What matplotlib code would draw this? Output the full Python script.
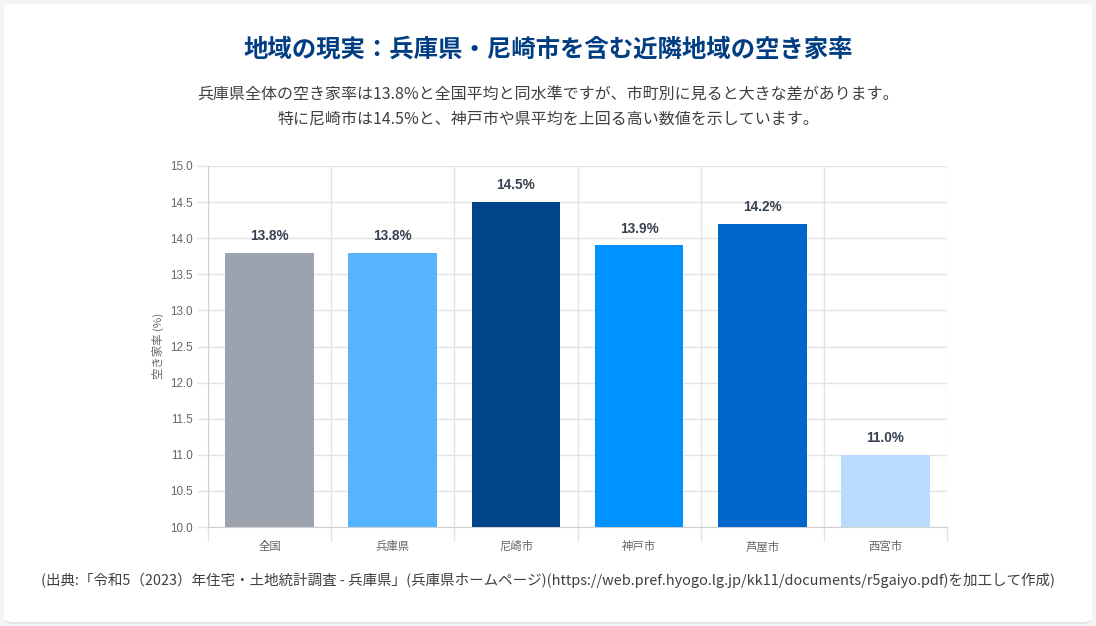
import matplotlib
matplotlib.use("Agg")
import matplotlib.pyplot as plt
from matplotlib.patches import FancyBboxPatch
from matplotlib.ticker import MultipleLocator, FixedLocator

plt.rcParams['font.family'] = ['Noto Sans CJK JP', 'DejaVu Sans']
NUM_FONT = ['Liberation Sans', 'Noto Sans CJK JP']

categories = ['全国', '兵庫県', '尼崎市', '神戸市', '芦屋市', '西宮市']
values = [13.8, 13.8, 14.5, 13.9, 14.2, 11.0]
colors = ['#9CA3AF', '#56B4FF', '#00448A', '#0092FF', '#0066CC', '#B8DBFF']

title = '地域の現実：兵庫県・尼崎市を含む近隣地域の空き家率'
subtitle1 = '兵庫県全体の空き家率は13.8%と全国平均と同水準ですが、市町別に見ると大きな差があります。'
subtitle2 = '特に尼崎市は14.5%と、神戸市や県平均を上回る高い数値を示しています。'
ylabel = '空き家率 (%)'
source = '(出典:「令和5（2023）年住宅・土地統計調査 - 兵庫県」(兵庫県ホームページ)(https://web.pref.hyogo.lg.jp/kk11/documents/r5gaiyo.pdf)を加工して作成)'

W, H = 1096, 626
fig = plt.figure(figsize=(W / 100, H / 100), dpi=100, facecolor='#F3F4F6')

# card
shadow = FancyBboxPatch((5 / W, 2 / H), 1086 / W, 618 / H,
                        boxstyle="round,pad=0,rounding_size=0.008",
                        transform=fig.transFigure, facecolor='#E2E4E8',
                        edgecolor='none', zorder=-2)
card = FancyBboxPatch((4 / W, 4 / H), 1088 / W, 618 / H,
                      boxstyle="round,pad=0,rounding_size=0.008",
                      transform=fig.transFigure, facecolor='white',
                      edgecolor='none', zorder=-1)
fig.patches.extend([shadow, card])

fig.text(548 / W, 1 - 50 / H, title, ha='center', va='center',
         fontsize=17.6, fontweight='bold', color='#003D82', zorder=2)
fig.text(548 / W, 1 - 95 / H, subtitle1, ha='center', va='center',
         fontsize=11.5, color='#404040', zorder=2)
fig.text(548 / W, 1 - 119 / H, subtitle2, ha='center', va='center',
         fontsize=11.5, color='#404040', zorder=2)
fig.text(548 / W, 1 - 580 / H, source, ha='center', va='center',
         fontsize=10.45, color='#404040', zorder=2)

ax = fig.add_axes([208 / W, (H - 527) / H, (947 - 208) / W, (527 - 166) / H])
ax.set_zorder(1)
ax.set_facecolor('none')
x = list(range(len(categories)))
ax.bar(x, values, width=0.72, color=colors, zorder=3)
for xi, v in zip(x, values):
    ax.annotate(f'{v:.1f}%', (xi, v), xytext=(0, 7), textcoords='offset points',
                ha='center', va='bottom', fontsize=9.8, fontweight='bold',
                family=NUM_FONT, color='#374151', zorder=4)

ax.set_xlim(-0.5, len(categories) - 0.5)
ax.set_ylim(10.0, 15.0)
ax.yaxis.set_major_locator(MultipleLocator(0.5))
ax.yaxis.set_major_formatter(matplotlib.ticker.FormatStrFormatter('%.1f'))

grid_c = '#E3E3E3'
ax.set_xticks(x)
ax.set_xticklabels(categories)
ax.xaxis.set_minor_locator(FixedLocator([i - 0.5 for i in range(len(categories) + 1)]))
ax.tick_params(axis='x', which='major', length=0, pad=10, labelsize=8.2, labelcolor='#666666')
ax.tick_params(axis='x', which='minor', length=10, color=grid_c, width=1)
ax.tick_params(axis='y', which='major', length=8, color=grid_c, width=1,
               labelsize=8.4, labelcolor='#666666', pad=3)
for lab in ax.get_yticklabels():
    lab.set_family(NUM_FONT)
ax.grid(axis='x', which='minor', color=grid_c, linewidth=1, zorder=0)
ax.grid(axis='y', which='major', color=grid_c, linewidth=1, zorder=0)
ax.set_axisbelow(True)

for s in ['top', 'right']:
    ax.spines[s].set_visible(False)
ax.spines['left'].set_color('#D0D0D0')
ax.spines['bottom'].set_color('#D0D0D0')

fig.text(158 / W, 1 - 346 / H, ylabel, rotation=90, ha='center', va='center',
         fontsize=8.2, color='#666666', zorder=2)

fig.savefig('out.png', dpi=100, facecolor=fig.get_facecolor())
